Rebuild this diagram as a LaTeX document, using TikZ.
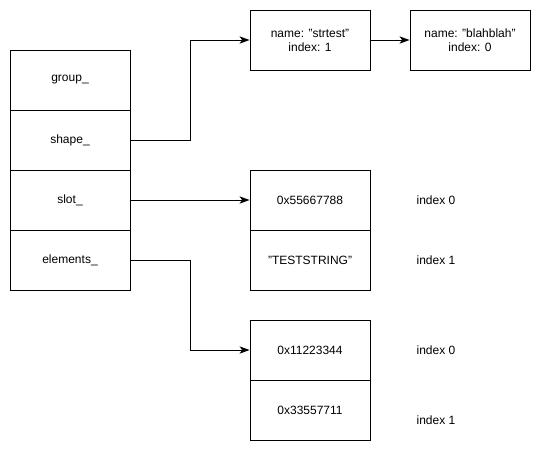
\documentclass[tikz,border=0pt]{standalone}
\usepackage{fontspec}
\setmainfont{Liberation Sans}
\usetikzlibrary{arrows.meta}
\begin{document}
\begin{tikzpicture}[x=0.75pt,y=-0.75pt,
  cell/.style={draw=black,line width=0.75pt,rectangle,minimum width=90pt,minimum height=45pt,inner sep=0pt,font=\fontsize{9pt}{10.5pt}\selectfont,align=center},
  lbl/.style={inner sep=0pt,font=\fontsize{9pt}{10.5pt}\selectfont},
  conn/.style={line width=0.75pt,-{Stealth[length=7.5pt,width=5.5pt,inset=2pt]}}]
\useasboundingbox (0,0) rectangle (541,451);
\node[cell] (group) at (70,80) {group\_};
\node[cell] (shape) at (70,140) {shape\_};
\node[cell] (slot) at (70,200) {slot\_};
\node[cell] (elements) at (70,260) {elements\_};
\node[cell] (strtest) at (310,40) {name: "strtest"\\index: 1};
\node[cell] (blah) at (470,40) {name: "blahblah"\\index: 0};
\node[cell] (s0) at (310,200) {0x55667788};
\node[cell] (s1) at (310,260) {"TESTSTRING"};
\node[cell] (e0) at (310,350) {0x11223344};
\node[cell] (e1) at (310,410) {0x33557711};
\node[lbl] (i0a) at (436,200) {index 0};
\node[lbl] (i1a) at (436,260) {index 1};
\node[lbl] (i0b) at (436,350) {index 0};
\node[lbl] (i1b) at (436,420) {index 1};
\draw[conn] (shape.east) -- (190,140) -- (190,40) -- (strtest.west);
\draw[conn] (slot.east) -- (s0.west);
\draw[conn] (elements.east) -- (190,260) -- (190,350) -- (e0.west);
\draw[conn] (strtest.east) -- (blah.west);
\end{tikzpicture}
\end{document}
